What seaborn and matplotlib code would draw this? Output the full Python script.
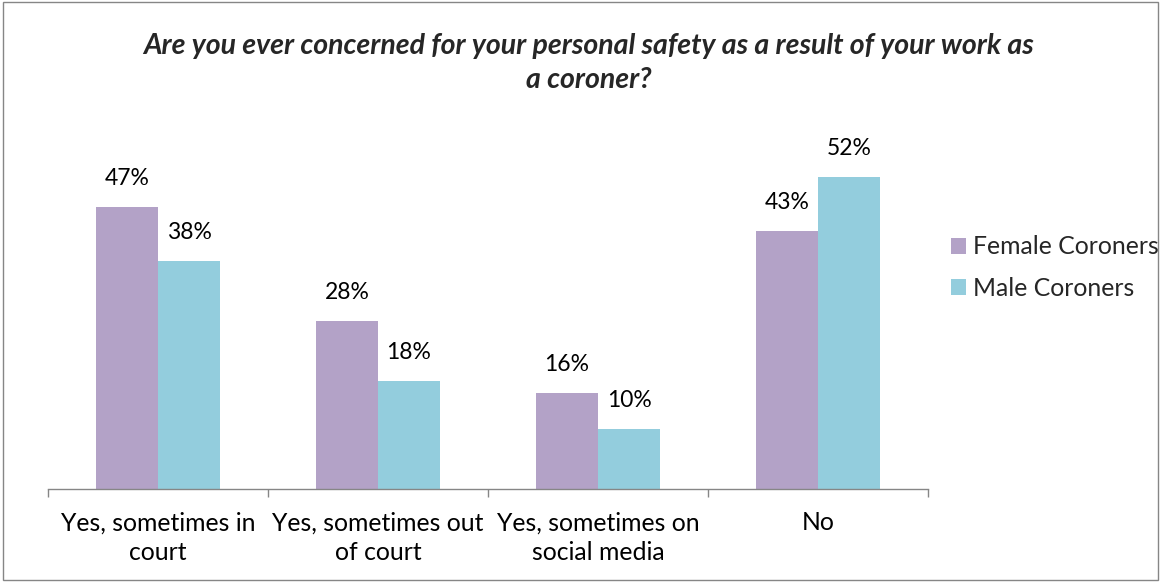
import matplotlib
matplotlib.use("Agg")
import matplotlib.pyplot as plt
import seaborn as sns
import pandas as pd
from matplotlib.patches import Rectangle
from matplotlib.ticker import FixedLocator

categories = ["Yes, sometimes in\ncourt", "Yes, sometimes out\nof court",
              "Yes, sometimes on\nsocial media", "No"]
series_names = ["Female Coroners", "Male Coroners"]
female = [47, 28, 16, 43]
male = [38, 18, 10, 52]
colors = ["#B3A2C7", "#93CDDD"]
title = "Are you ever concerned for your personal safety as a result of your work as\na coroner?"

df = pd.DataFrame({
    "category": categories * 2,
    "group": [series_names[0]] * 4 + [series_names[1]] * 4,
    "value": female + male,
})

sns.set_theme(style="white")
plt.rcParams["font.family"] = ["Lato", "DejaVu Sans"]

fig = plt.figure(figsize=(11.61, 5.82), dpi=100)
ax = fig.add_axes([0.0413, 0.160, 0.758, 0.618])

sns.barplot(data=df, x="category", y="value", hue="group", order=categories,
            hue_order=series_names, palette=colors, width=0.564,
            saturation=1, ax=ax, legend=False)

for cont in ax.containers:
    for bar in cont:
        bar.set_edgecolor("none")
    labels = [f"{v:.0f}%" for v in cont.datavalues]
    ax.bar_label(cont, labels=labels, padding=13, fontsize=16.5, color="#000000")

ax.set_xlim(-0.5, len(categories) - 0.5)
ax.set_ylim(0, 60)
ax.set_xlabel("")
ax.set_ylabel("")
ax.set_yticks([])
for s in ["top", "right", "left"]:
    ax.spines[s].set_visible(False)
ax.spines["bottom"].set_color("#868686")
ax.spines["bottom"].set_linewidth(1.0)

ax.tick_params(axis="x", which="major", length=0, pad=16, labelsize=17.8, labelcolor="#000000")
ax.xaxis.set_minor_locator(FixedLocator([i - 0.5 for i in range(len(categories) + 1)]))
ax.tick_params(axis="x", which="minor", length=6, width=1.0, color="#868686", bottom=True)
for lab in ax.get_xticklabels():
    lab.set_linespacing(1.35)

fig.text(0.507, 0.891, title, ha="center", va="center", fontsize=20.5,
         fontweight="bold", fontstyle="italic", linespacing=1.38)

handles = [Rectangle((0, 0), 1, 1, facecolor=c, edgecolor="none") for c in colors]
fig.legend(handles, series_names, loc="center left", bbox_to_anchor=(0.8, 0.54),
           frameon=False, fontsize=17.8, handlelength=0.6, handleheight=0.6,
           handletextpad=0.3, labelspacing=0.75)

fig.add_artist(Rectangle((0.003, 0.003), 0.994, 0.994, transform=fig.transFigure,
                         fill=False, edgecolor="#868686", linewidth=1.0))

fig.savefig("out.png", dpi=100)
